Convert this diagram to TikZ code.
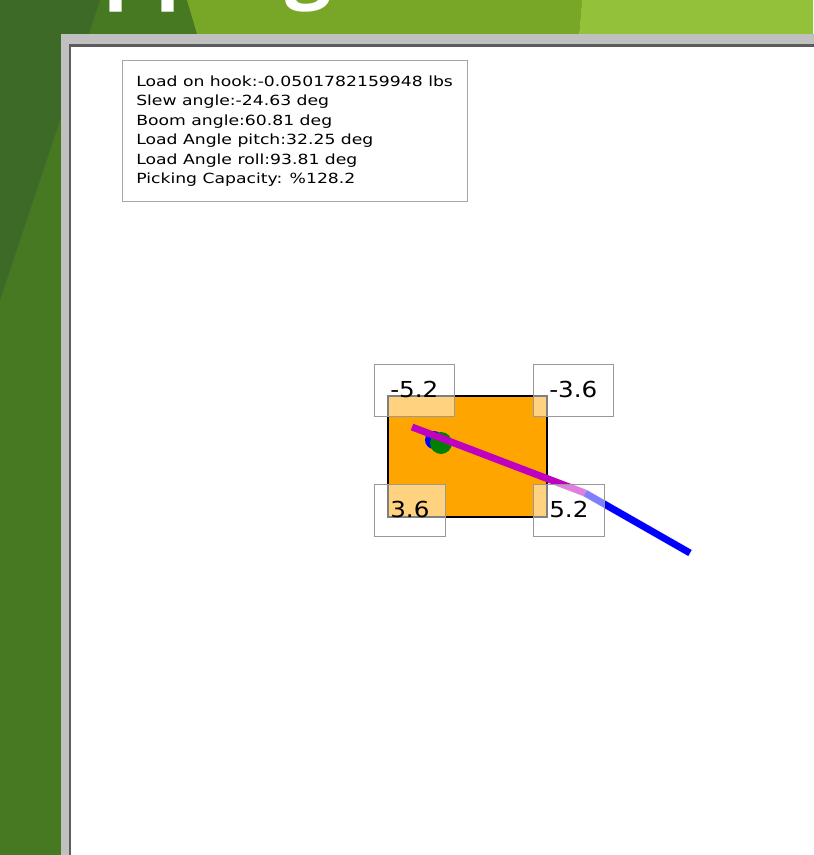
\documentclass[tikz,border=0pt]{standalone}
\usepackage{fontspec}
\newfontfamily\infofont[FakeStretch=1.23]{DejaVu Sans}
\newfontfamily\tagfont[FakeStretch=1.12]{DejaVu Sans}
\newfontfamily\titlefont{Open Sans}
\definecolor{darkleaf}{HTML}{3D6B27}
\definecolor{leaf}{HTML}{477822}
\definecolor{midleaf}{HTML}{78A627}
\definecolor{lightleaf}{HTML}{93C23A}
\definecolor{framegray}{HTML}{C0C0C0}
\definecolor{frameline}{HTML}{5C5C5C}
\definecolor{loadorange}{HTML}{FFA500}
\definecolor{ropemag}{HTML}{BF00BF}
\tikzset{
  title/.style={anchor=base west, inner sep=0pt, text=white, font=\titlefont\bfseries\fontsize{61.5pt}{70pt}\selectfont},
  infobox/.style={draw=black!35, fill=white, anchor=north west, inner sep=0pt, minimum width=258.75pt, minimum height=105.75pt},
  infotext/.style={anchor=north west, inner sep=0pt, align=left, font=\infofont\fontsize{10.5pt}{14.6pt}\selectfont},
  load/.style={draw=black, line width=1.5pt, fill=loadorange, minimum width=119.25pt, minimum height=90.75pt, inner sep=0pt},
  dot/.style={circle, inner sep=0pt},
  rope/.style={line width=5.25pt},
  tagbox/.style={draw=black!40, fill=white, fill opacity=0.5, text opacity=1, inner xsep=12pt, inner ysep=0pt, text height=24.5pt, text depth=14.5pt, anchor=base west, font=\tagfont\fontsize{16.5pt}{20pt}\selectfont}
}
\begin{document}
\begin{tikzpicture}[x=0.75pt,y=-0.75pt]
\useasboundingbox (0,0) rectangle (813,855);
\fill[leaf] (0,0) rectangle (813,855);
\fill[darkleaf] (0,0) -- (100,0) -- (0,300) -- cycle;
\fill[midleaf] (187,0) -- (582,0) -- (579,34) -- (197,34) -- cycle;
\fill[lightleaf] (582,0) -- (813,0) -- (813,34) -- (579,34) -- cycle;
\node[title] (head) at (103,-7) {\llap{Ma}pping};

\fill[framegray] (61,34) rectangle (830,870);
\draw[frameline, fill=white, line width=2.2pt] (70,45.5) rectangle (830,870);

\node[infobox] (info) at (122,60) {};
\node[infotext] (infotxt) at (136,75.5) {Load on hook:-0.0501782159948 lbs\\
Slew angle:-24.63 deg\\
Boom angle:60.81 deg\\
Load Angle pitch:32.25 deg\\
Load Angle roll:93.81 deg\\
Picking Capacity: \%128.2};

\node[load] (load) at (467.5,456.5) {};
\node[dot, fill=blue, minimum size=13.5pt] (D1) at (434,440) {};
\node[dot, fill=green!50!black, minimum size=16.5pt] (D2) at (441,443) {};

\coordinate (R1) at (412,427);
\coordinate (R2) at (585,493);
\coordinate (R3) at (690,553);
\draw[rope, blue] (R2) -- (R3);
\draw[rope, ropemag] (R1) -- (R2);

\node[tagbox] (T1) at (374,397) {-5.2};
\node[tagbox] (T2) at (533,397) {-3.6};
\node[tagbox] (T3) at (374,517) {3.6};
\node[tagbox] (T4) at (533,517) {5.2};
\end{tikzpicture}
\end{document}
